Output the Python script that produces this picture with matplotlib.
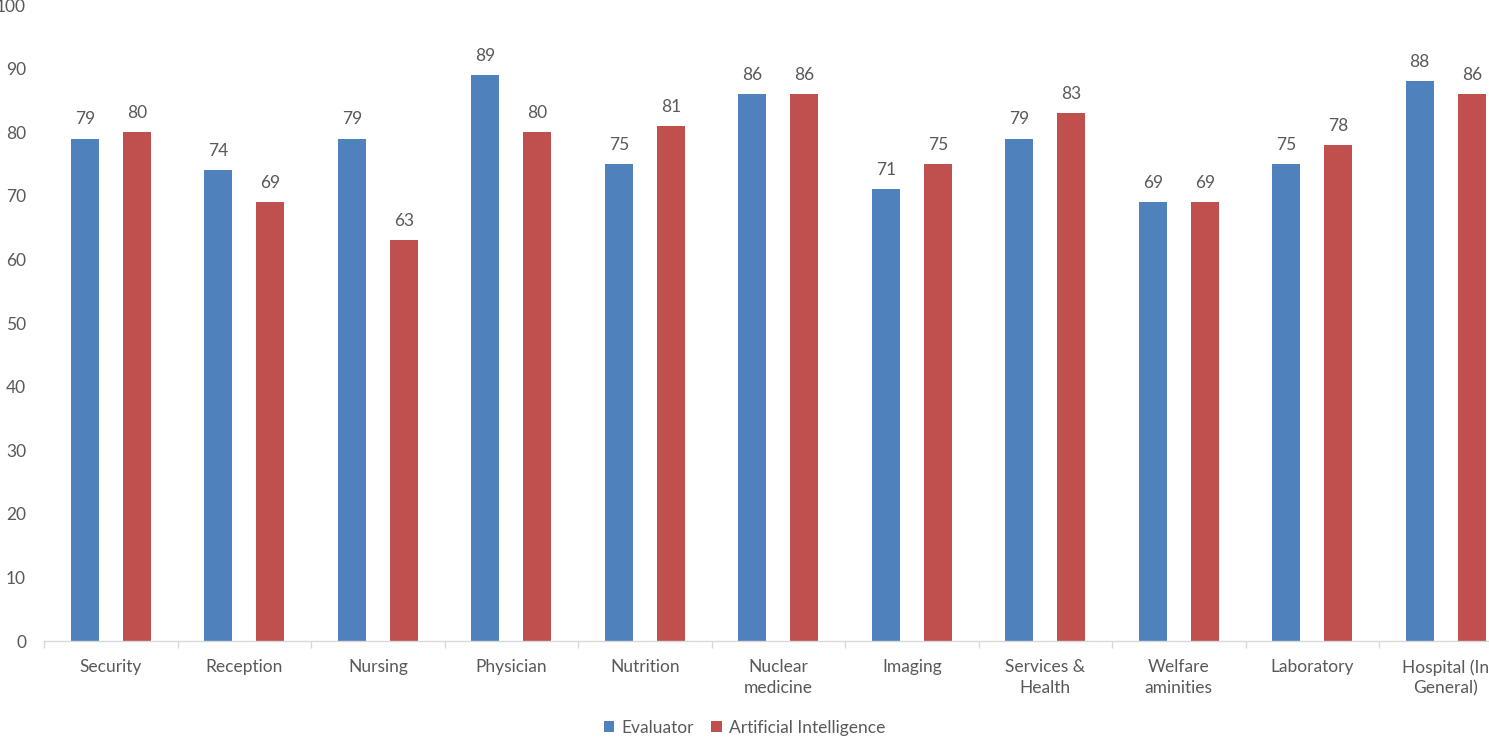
import matplotlib.pyplot as plt
import numpy as np

plt.rcParams['font.family'] = ['Lato', 'DejaVu Sans']

categories = ["Security", "Reception", "Nursing", "Physician", "Nutrition",
              "Nuclear\nmedicine", "Imaging", "Services &\nHealth",
              "Welfare\naminities", "Laboratory", "Hospital (In\nGeneral)"]
evaluator = [79, 74, 79, 89, 75, 86, 71, 79, 69, 75, 88]
ai = [80, 69, 63, 80, 81, 86, 75, 83, 69, 78, 86]

blue = "#4F81BD"
red = "#C0504D"
grey = "#595959"
fs = 12.5

fig = plt.figure(figsize=(14.89, 7.39), dpi=100)
ax = fig.add_axes([0.0296, 0.1326, 0.9862, 0.8606])

x = np.arange(len(categories))
w = 0.21
off = 0.195
b1 = ax.bar(x - off, evaluator, w, color=blue, label="Evaluator")
b2 = ax.bar(x + off, ai, w, color=red, label="Artificial Intelligence")

for bars in (b1, b2):
    for r in bars:
        ax.annotate(str(int(r.get_height())), (r.get_x() + r.get_width() / 2, r.get_height()),
                    xytext=(0, 8), textcoords="offset points", ha="center", va="bottom",
                    fontsize=fs, color=grey)

ax.set_xlim(-0.5, len(categories) - 0.5)
ax.set_ylim(0, 100)
ax.set_yticks(range(0, 101, 10))
ax.set_xticks(x)
ax.set_xticklabels(categories, fontsize=fs, color=grey, linespacing=1.35)
ax.set_xticks(np.arange(len(categories) + 1) - 0.5, minor=True)
ax.tick_params(axis='x', which='major', length=0, pad=13)
ax.tick_params(axis='x', which='minor', length=5, color="#D9D9D9", width=1)
ax.tick_params(axis='y', length=0, pad=13, labelsize=fs, labelcolor=grey)

for s in ("top", "right", "left"):
    ax.spines[s].set_visible(False)
ax.spines["bottom"].set_color("#D9D9D9")
ax.spines["bottom"].set_linewidth(1)

fig.legend(handles=[b1, b2], loc="lower center", bbox_to_anchor=(0.5, -0.017), ncol=2,
           frameon=False, fontsize=fs, labelcolor=grey, handlelength=0.6,
           handleheight=0.6, handletextpad=0.4, columnspacing=1.0)

fig.savefig("out.png", dpi=100)
